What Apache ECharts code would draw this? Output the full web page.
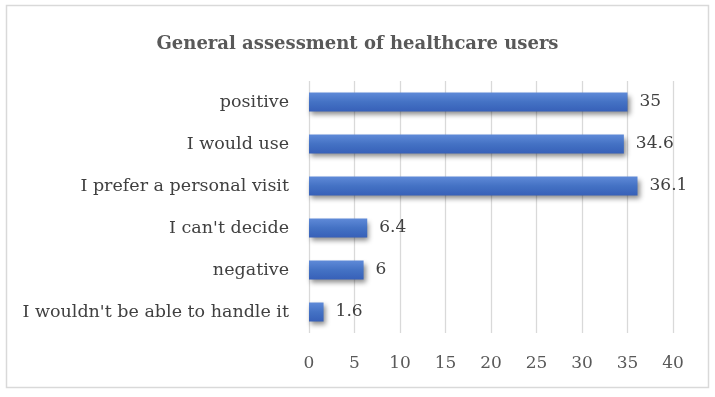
<!DOCTYPE html>
<html><head><meta charset="utf-8">
<script src="https://cdn.jsdelivr.net/npm/echarts@6/dist/echarts.min.js"></script>
<style>html,body{margin:0;padding:0;background:#fff}#c{width:715px;height:397px}</style>
</head><body><div id="c"></div>
<script>
const categories = ["positive","I would use","I prefer a personal visit","I can't decide","negative","I wouldn't be able to handle it"];
const values = [35, 34.6, 36.1, 6.4, 6, 1.6];
const xTicks = [0,5,10,15,20,25,30,35,40];
const titleText = "General assessment of healthcare users";

const FONT = "'DejaVu Serif', 'Liberation Serif', serif";
const chart = echarts.init(document.getElementById('c'));
chart.setOption({
  animation: false,
  title: {text: titleText, left: 'center', top: 30,
    textStyle: {fontFamily: FONT, fontSize: 18, fontWeight: 'bold', color: '#595959'}},
  graphic: [{type: 'rect', shape: {x: 6.5, y: 5.5, width: 702, height: 382},
    style: {fill: 'none', stroke: '#d9d9d9', lineWidth: 1.5}, silent: true}],
  grid: {left: 309, right: 42, top: 81, bottom: 64},
  xAxis: {type: 'value', min: xTicks[0], max: xTicks[xTicks.length-1], interval: 5,
    axisLine: {show: false}, axisTick: {show: false},
    splitLine: {lineStyle: {color: '#d9d9d9', width: 1.3}},
    axisLabel: {fontFamily: FONT, fontSize: 17, color: '#595959', margin: 22}},
  yAxis: {type: 'category', data: categories, inverse: true,
    axisLine: {show: false}, axisTick: {show: false},
    axisLabel: {fontFamily: FONT, fontSize: 17.5, color: '#404040', margin: 20}},
  series: [{type: 'bar', data: values, barWidth: 19,
    itemStyle: {
      color: new echarts.graphic.LinearGradient(0,0,0,1,[
        {offset:0,color:'#5f8ad8'},{offset:0.5,color:'#4472c4'},{offset:1,color:'#3760b8'}]),
      shadowColor: 'rgba(0,0,0,0.45)', shadowBlur: 5, shadowOffsetX: 2, shadowOffsetY: 3},
    label: {show: true, position: 'right', distance: 12, fontFamily: FONT, fontSize: 17, color: '#404040'}
  }]
});
</script></body></html>
